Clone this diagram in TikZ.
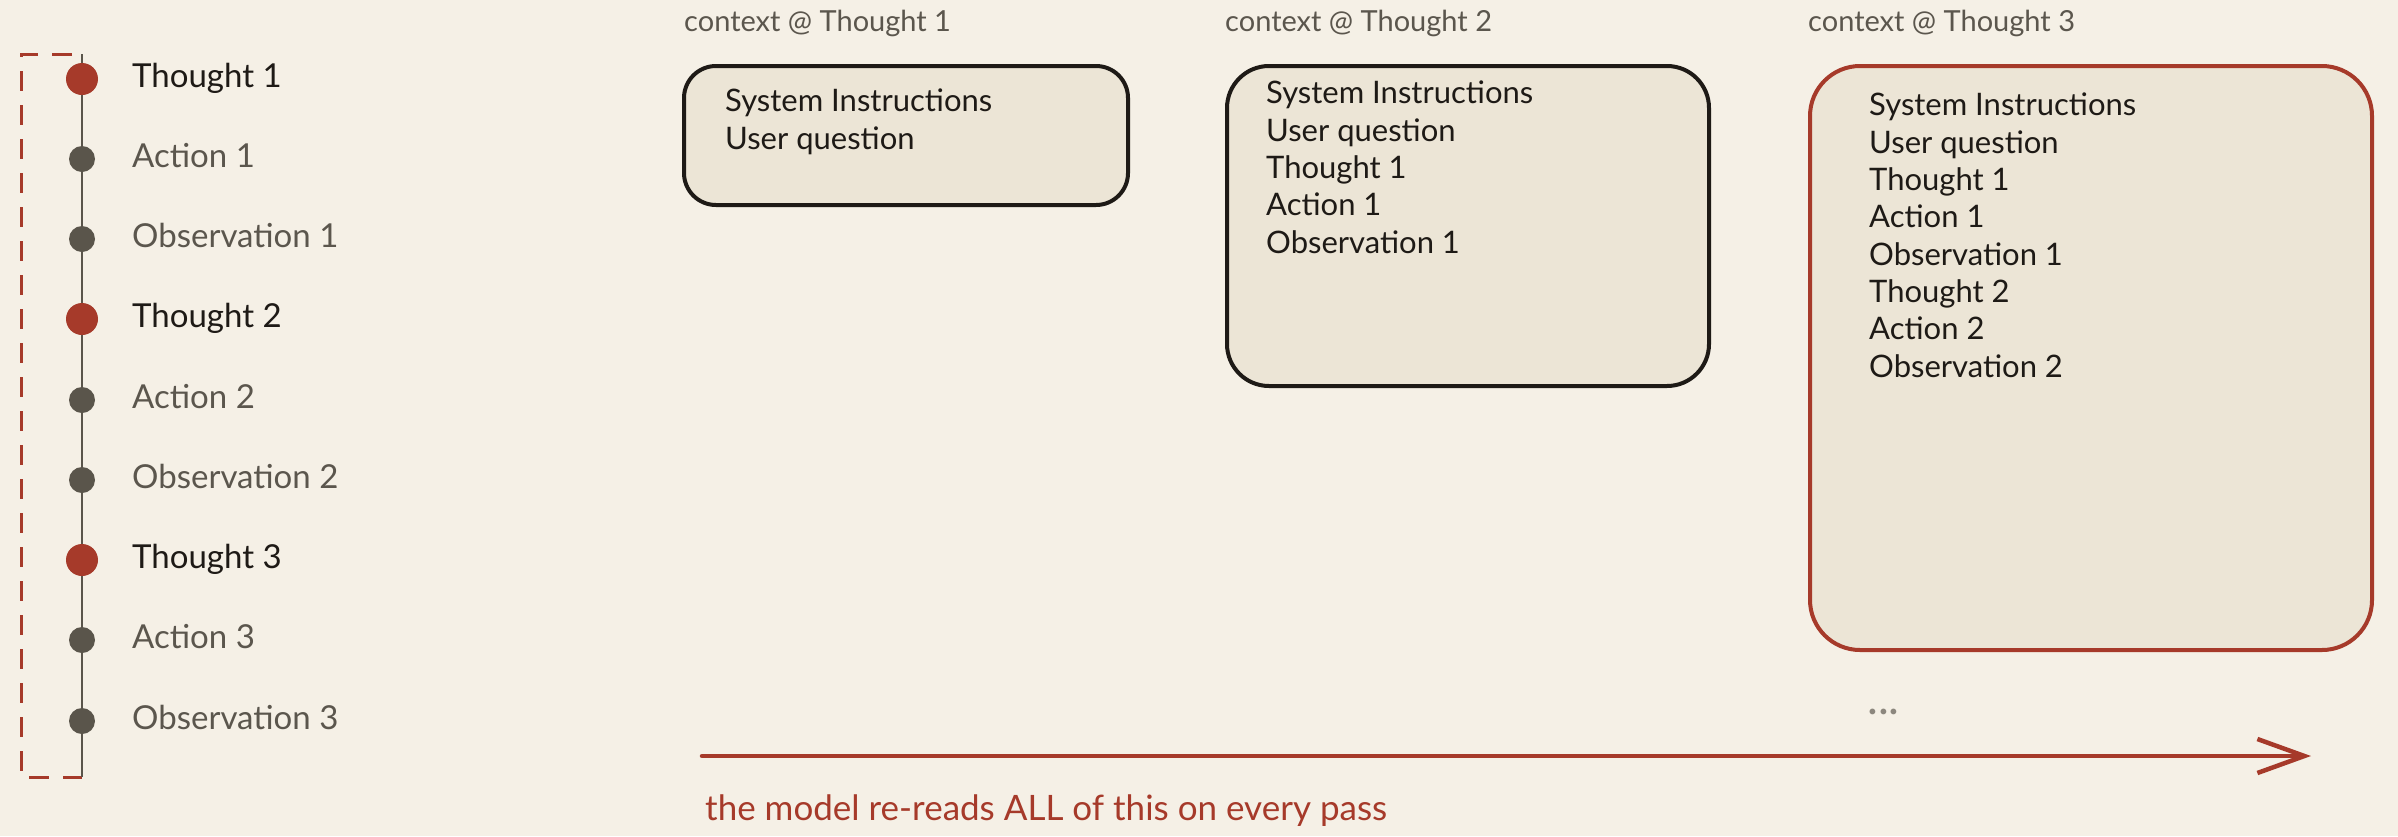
\documentclass[tikz,border=0pt]{standalone}
\usepackage{fontspec}
\setmainfont{Lato}
\usetikzlibrary{arrows.meta}
\definecolor{bgc}{HTML}{F5F0E6}
\definecolor{boxfill}{HTML}{ECE5D6}
\definecolor{inkdark}{HTML}{1E1A16}
\definecolor{inkgrey}{HTML}{5B564D}
\definecolor{inkred}{HTML}{A63A2A}
\definecolor{dotgrey}{HTML}{5A554B}
\definecolor{ellgrey}{HTML}{8C877E}
\tikzset{
  reddot/.style={circle, fill=inkred, inner sep=0pt, minimum size=32pt},
  greydot/.style={circle, fill=dotgrey, inner sep=0pt, minimum size=26pt},
  tlabel/.style={anchor=base west, inner sep=0pt, font=\fontsize{33}{38}\selectfont, text=inkdark},
  glabel/.style={anchor=base west, inner sep=0pt, font=\fontsize{33}{38}\selectfont, text=inkgrey},
  tline/.style={draw=dotgrey, line width=2.2pt},
  dashframe/.style={draw=inkred, line width=3pt, dash pattern=on 20pt off 14pt},
  ctxbox/.style={anchor=north west, draw=inkdark, fill=boxfill, line width=4pt, inner sep=0pt},
  ctxtitle/.style={anchor=base west, inner sep=0pt, font=\fontsize{29}{34}\selectfont, text=inkgrey},
  ctxtext/.style={anchor=base west, inner sep=0pt, align=left, font=\fontsize{31}{37.3}\selectfont, text=inkdark},
}
\begin{document}
\begin{tikzpicture}[x=1pt,y=-1pt]
\fill[bgc] (0,0) rectangle (2398,836);
\useasboundingbox (0,0) rectangle (2398,836);

% timeline
\coordinate (tltop) at (82,54);
\coordinate (tlbot) at (82,777);
\coordinate (fr1) at (72,54);
\coordinate (fr2) at (21,54);
\coordinate (fr3) at (21,777);
\draw[dashframe] (fr1) -- (fr2) -- (fr3) -- (tlbot);
\draw[tline] (tltop) -- (tlbot);

\node[reddot]  (t1) at (82,79) {};
\node[greydot] (a1) at (82,159) {};
\node[greydot] (o1) at (82,239) {};
\node[reddot]  (t2) at (82,319) {};
\node[greydot] (a2) at (82,400) {};
\node[greydot] (o2) at (82,480) {};
\node[reddot]  (t3) at (82,560) {};
\node[greydot] (a3) at (82,640) {};
\node[greydot] (o3) at (82,721) {};

\node[tlabel] (lt1) at (132,87) {Thought 1};
\node[glabel] (la1) at (132,167) {Action 1};
\node[glabel] (lo1) at (132,247) {Observation 1};
\node[tlabel] (lt2) at (132,327) {Thought 2};
\node[glabel] (la2) at (132,408) {Action 2};
\node[glabel] (lo2) at (132,488) {Observation 2};
\node[tlabel] (lt3) at (132,568) {Thought 3};
\node[glabel] (la3) at (132,648) {Action 3};
\node[glabel] (lo3) at (132,729) {Observation 3};

% context boxes
\node[ctxtitle] (c1) at (684,31) {context @ Thought 1};
\node[ctxtitle] (c2) at (1225,31) {context @ Thought 2};
\node[ctxtitle] (c3) at (1808,31) {context @ Thought 3};

\node[ctxbox, rounded corners=32pt, minimum width=444pt, minimum height=139pt] (b1) at (682,64) {};
\node[ctxbox, rounded corners=42pt, minimum width=482pt, minimum height=320pt] (b2) at (1225,64) {};
\node[ctxbox, draw=inkred, rounded corners=50pt, minimum width=562pt, minimum height=584pt] (b3) at (1808,64) {};

% base anchor = baseline of the last line
\node[ctxtext] (x1) at (725,149) {System Instructions\\User question};
\node[ctxtext] (x2) at (1266,253) {System Instructions\\User question\\Thought 1\\Action 1\\Observation 1};
\node[ctxtext] (x3) at (1869,377) {System Instructions\\User question\\Thought 1\\Action 1\\Observation 1\\Thought 2\\Action 2\\Observation 2};

\node[anchor=base west, inner sep=0pt, font=\fontsize{46}{50}\selectfont, text=ellgrey] (ell) at (1867,714) {...};

% arrow
\coordinate (arrS) at (702,756);
\coordinate (arrE) at (2311,756);
\draw[draw=inkred, line width=4.5pt, line cap=round, -{Straight Barb[length=47pt, width=34pt, line width=4.5pt]}] (arrS) -- (arrE);

\node[anchor=base west, inner sep=0pt, font=\fontsize{35}{40}\selectfont, text=inkred] (cap) at (705,820) {the model re-reads ALL of this on every pass};
\end{tikzpicture}
\end{document}
